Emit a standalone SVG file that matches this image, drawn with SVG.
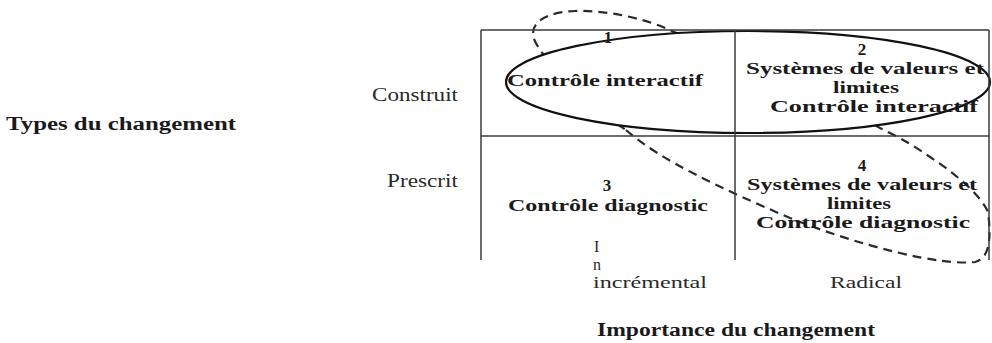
<svg xmlns="http://www.w3.org/2000/svg" width="992" height="343" viewBox="0 0 992 343">
  <style>
    .b { font-family: "Liberation Serif", "Times New Roman", serif; font-weight: bold; font-size: 18px; fill: #1a1a1a; }
    .c { font-family: "Liberation Serif", "Times New Roman", serif; font-weight: bold; font-size: 17px; fill: #1a1a1a; }
    .r { font-family: "Liberation Serif", "Times New Roman", serif; font-size: 18px; fill: #2a2a2a; }
    .s { font-family: "Liberation Serif", "Times New Roman", serif; font-size: 16px; fill: #2a2a2a; }
    .grid { stroke: #3a3a3a; stroke-width: 1.5; fill: none; }
    .dash { stroke: #2a2a2a; stroke-width: 2.2; fill: none; stroke-dasharray: 9 6; }
    .solid { stroke: #111; stroke-width: 2.2; fill: #fff; }
  </style>
  <rect width="992" height="343" fill="#fff"/>

  <!-- axis labels -->
  <g id="axis-labels">
    <text class="b" x="6" y="130" textLength="230" lengthAdjust="spacingAndGlyphs">Types du changement</text>
    <text class="r" x="372" y="101" textLength="86" lengthAdjust="spacingAndGlyphs">Construit</text>
    <text class="r" x="387" y="187" textLength="71" lengthAdjust="spacingAndGlyphs">Prescrit</text>
    <text class="s" x="594" y="252">I</text>
    <text class="s" x="593" y="270">n</text>
    <text class="s" x="593" y="288" textLength="114" lengthAdjust="spacingAndGlyphs">incrémental</text>
    <text class="s" x="830" y="288" textLength="72" lengthAdjust="spacingAndGlyphs">Radical</text>
    <text class="b" x="597" y="336" textLength="278" lengthAdjust="spacingAndGlyphs">Importance du changement</text>
  </g>

  <!-- groupings: dashed loop drawn first, solid loop with white fill masks its inner part -->
  <g id="connectors">
    <path class="dash" d="M 626 130 C 660 160, 720 188, 790 218 C 860 246, 940 266, 975 262 C 991 258, 991 235, 988 212 C 982 198, 962 178, 930 157 C 910 143, 900 138, 880 128 C 820 95, 740 55, 674 32 C 650 20, 610 10, 575 11 C 550 12, 532 20, 533 35 C 534 50, 580 100, 626 130 Z"/>
    <ellipse class="solid" cx="748" cy="82" rx="242" ry="51"/>
  </g>

  <!-- matrix frame -->
  <g id="frame">
    <line class="grid" x1="481" y1="30" x2="989" y2="30"/>
    <line class="grid" x1="481" y1="136" x2="989" y2="136"/>
    <line class="grid" x1="481" y1="30" x2="481" y2="260"/>
    <line class="grid" x1="735" y1="30" x2="735" y2="260"/>
    <line class="grid" x1="989" y1="30" x2="989" y2="260"/>
  </g>

  <g id="cell-1">
    <text class="c" x="608" y="43" text-anchor="middle">1</text>
    <text class="c" x="507" y="86" textLength="196" lengthAdjust="spacingAndGlyphs">Contrôle interactif</text>
  </g>

  <g id="cell-2">
    <text class="c" x="862" y="55" text-anchor="middle">2</text>
    <text class="c" x="746" y="74" textLength="238" lengthAdjust="spacingAndGlyphs">Systèmes de valeurs et</text>
    <text class="c" x="833" y="93" textLength="66" lengthAdjust="spacingAndGlyphs">limites</text>
    <text class="c" x="770" y="112" textLength="208" lengthAdjust="spacingAndGlyphs">Contrôle interactif</text>
  </g>

  <g id="cell-3">
    <text class="c" x="607" y="191" text-anchor="middle">3</text>
    <text class="c" x="508" y="211" textLength="200" lengthAdjust="spacingAndGlyphs">Contrôle diagnostic</text>
  </g>

  <g id="cell-4">
    <text class="c" x="862" y="171" text-anchor="middle">4</text>
    <text class="c" x="747" y="190" textLength="230" lengthAdjust="spacingAndGlyphs">Systèmes de valeurs et</text>
    <text class="c" x="827" y="209" textLength="64" lengthAdjust="spacingAndGlyphs">limites</text>
    <text class="c" x="756" y="228" textLength="214" lengthAdjust="spacingAndGlyphs">Contrôle diagnostic</text>
  </g>
</svg>
